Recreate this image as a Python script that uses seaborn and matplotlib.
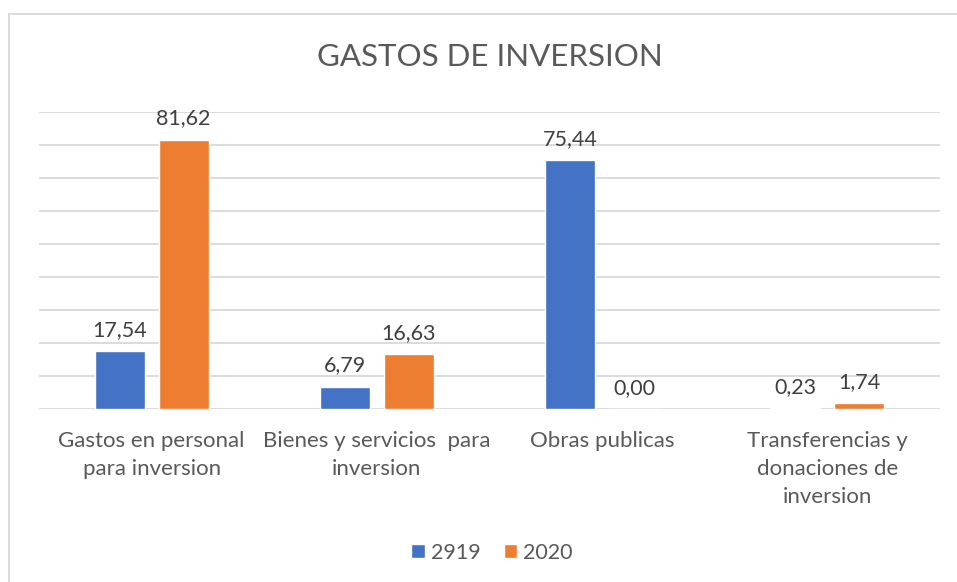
import matplotlib
matplotlib.use("Agg")
import matplotlib.pyplot as plt
import seaborn as sns
import pandas as pd
from matplotlib.lines import Line2D

categories = ["Gastos en personal\npara inversion",
              "Bienes y servicios  para\ninversion",
              "Obras publicas",
              "Transferencias y\ndonaciones de\ninversion"]
series_names = ["2919", "2020"]
values_2919 = [17.54, 6.79, 75.44, 0.23]
values_2020 = [81.62, 16.63, 0.00, 1.74]
colors = ["#4472C4", "#ED7D31"]

df = pd.DataFrame({
    "cat": categories * 2,
    "serie": [series_names[0]] * 4 + [series_names[1]] * 4,
    "val": values_2919 + values_2020,
})

sns.set_theme(style="white")
plt.rcParams["font.family"] = ["Lato", "DejaVu Sans"]
txt = "#595959"

W, H = 957, 582
fig = plt.figure(figsize=(W / 100, H / 100), dpi=100)
ax = fig.add_axes([39 / W, (H - 409) / H, (940 - 39) / W, (409 - 112) / H])

sns.barplot(data=df, x="cat", y="val", hue="serie", palette=colors,
            width=0.569, gap=0.22, ax=ax, legend=True, saturation=1)

ax.set_ylim(0, 90)
ax.set_xlim(-0.5, 3.5)
ax.set_yticks(range(0, 91, 10))
ax.yaxis.grid(True, color="#D9D9D9", linewidth=1.3)
ax.set_axisbelow(True)
ax.tick_params(axis="y", left=False, labelleft=False)
ax.tick_params(axis="x", bottom=False, labelsize=16, colors=txt, pad=10)
for lab in ax.get_xticklabels():
    lab.set_linespacing(1.5)
for s in ax.spines.values():
    s.set_visible(False)
ax.set_xlabel("")
ax.set_ylabel("")

for cont in ax.containers:
    labels = [f"{v:.2f}".replace(".", ",") for v in cont.datavalues]
    ax.bar_label(cont, labels=labels, padding=8, fontsize=15.5, color="#404040")

leg = ax.legend(loc="upper center", bbox_to_anchor=(0.503, -0.385), ncol=2,
                frameon=False, fontsize=15.5, handlelength=0.62, handleheight=0.62,
                handletextpad=0.3, columnspacing=1.05)
for t in leg.get_texts():
    t.set_color(txt)

fig.text(490 / W, (H - 57) / H, "GASTOS DE INVERSION", ha="center", va="center",
         fontsize=22.5, color=txt)

fig.add_artist(Line2D([9 / W, 1], [(H - 14) / H] * 2, color="#D9D9D9", lw=1.3,
                      transform=fig.transFigure))
fig.add_artist(Line2D([9 / W] * 2, [(H - 14) / H, 0], color="#D9D9D9", lw=1.3,
                      transform=fig.transFigure))

fig.savefig("out.png", dpi=100, facecolor="white")
